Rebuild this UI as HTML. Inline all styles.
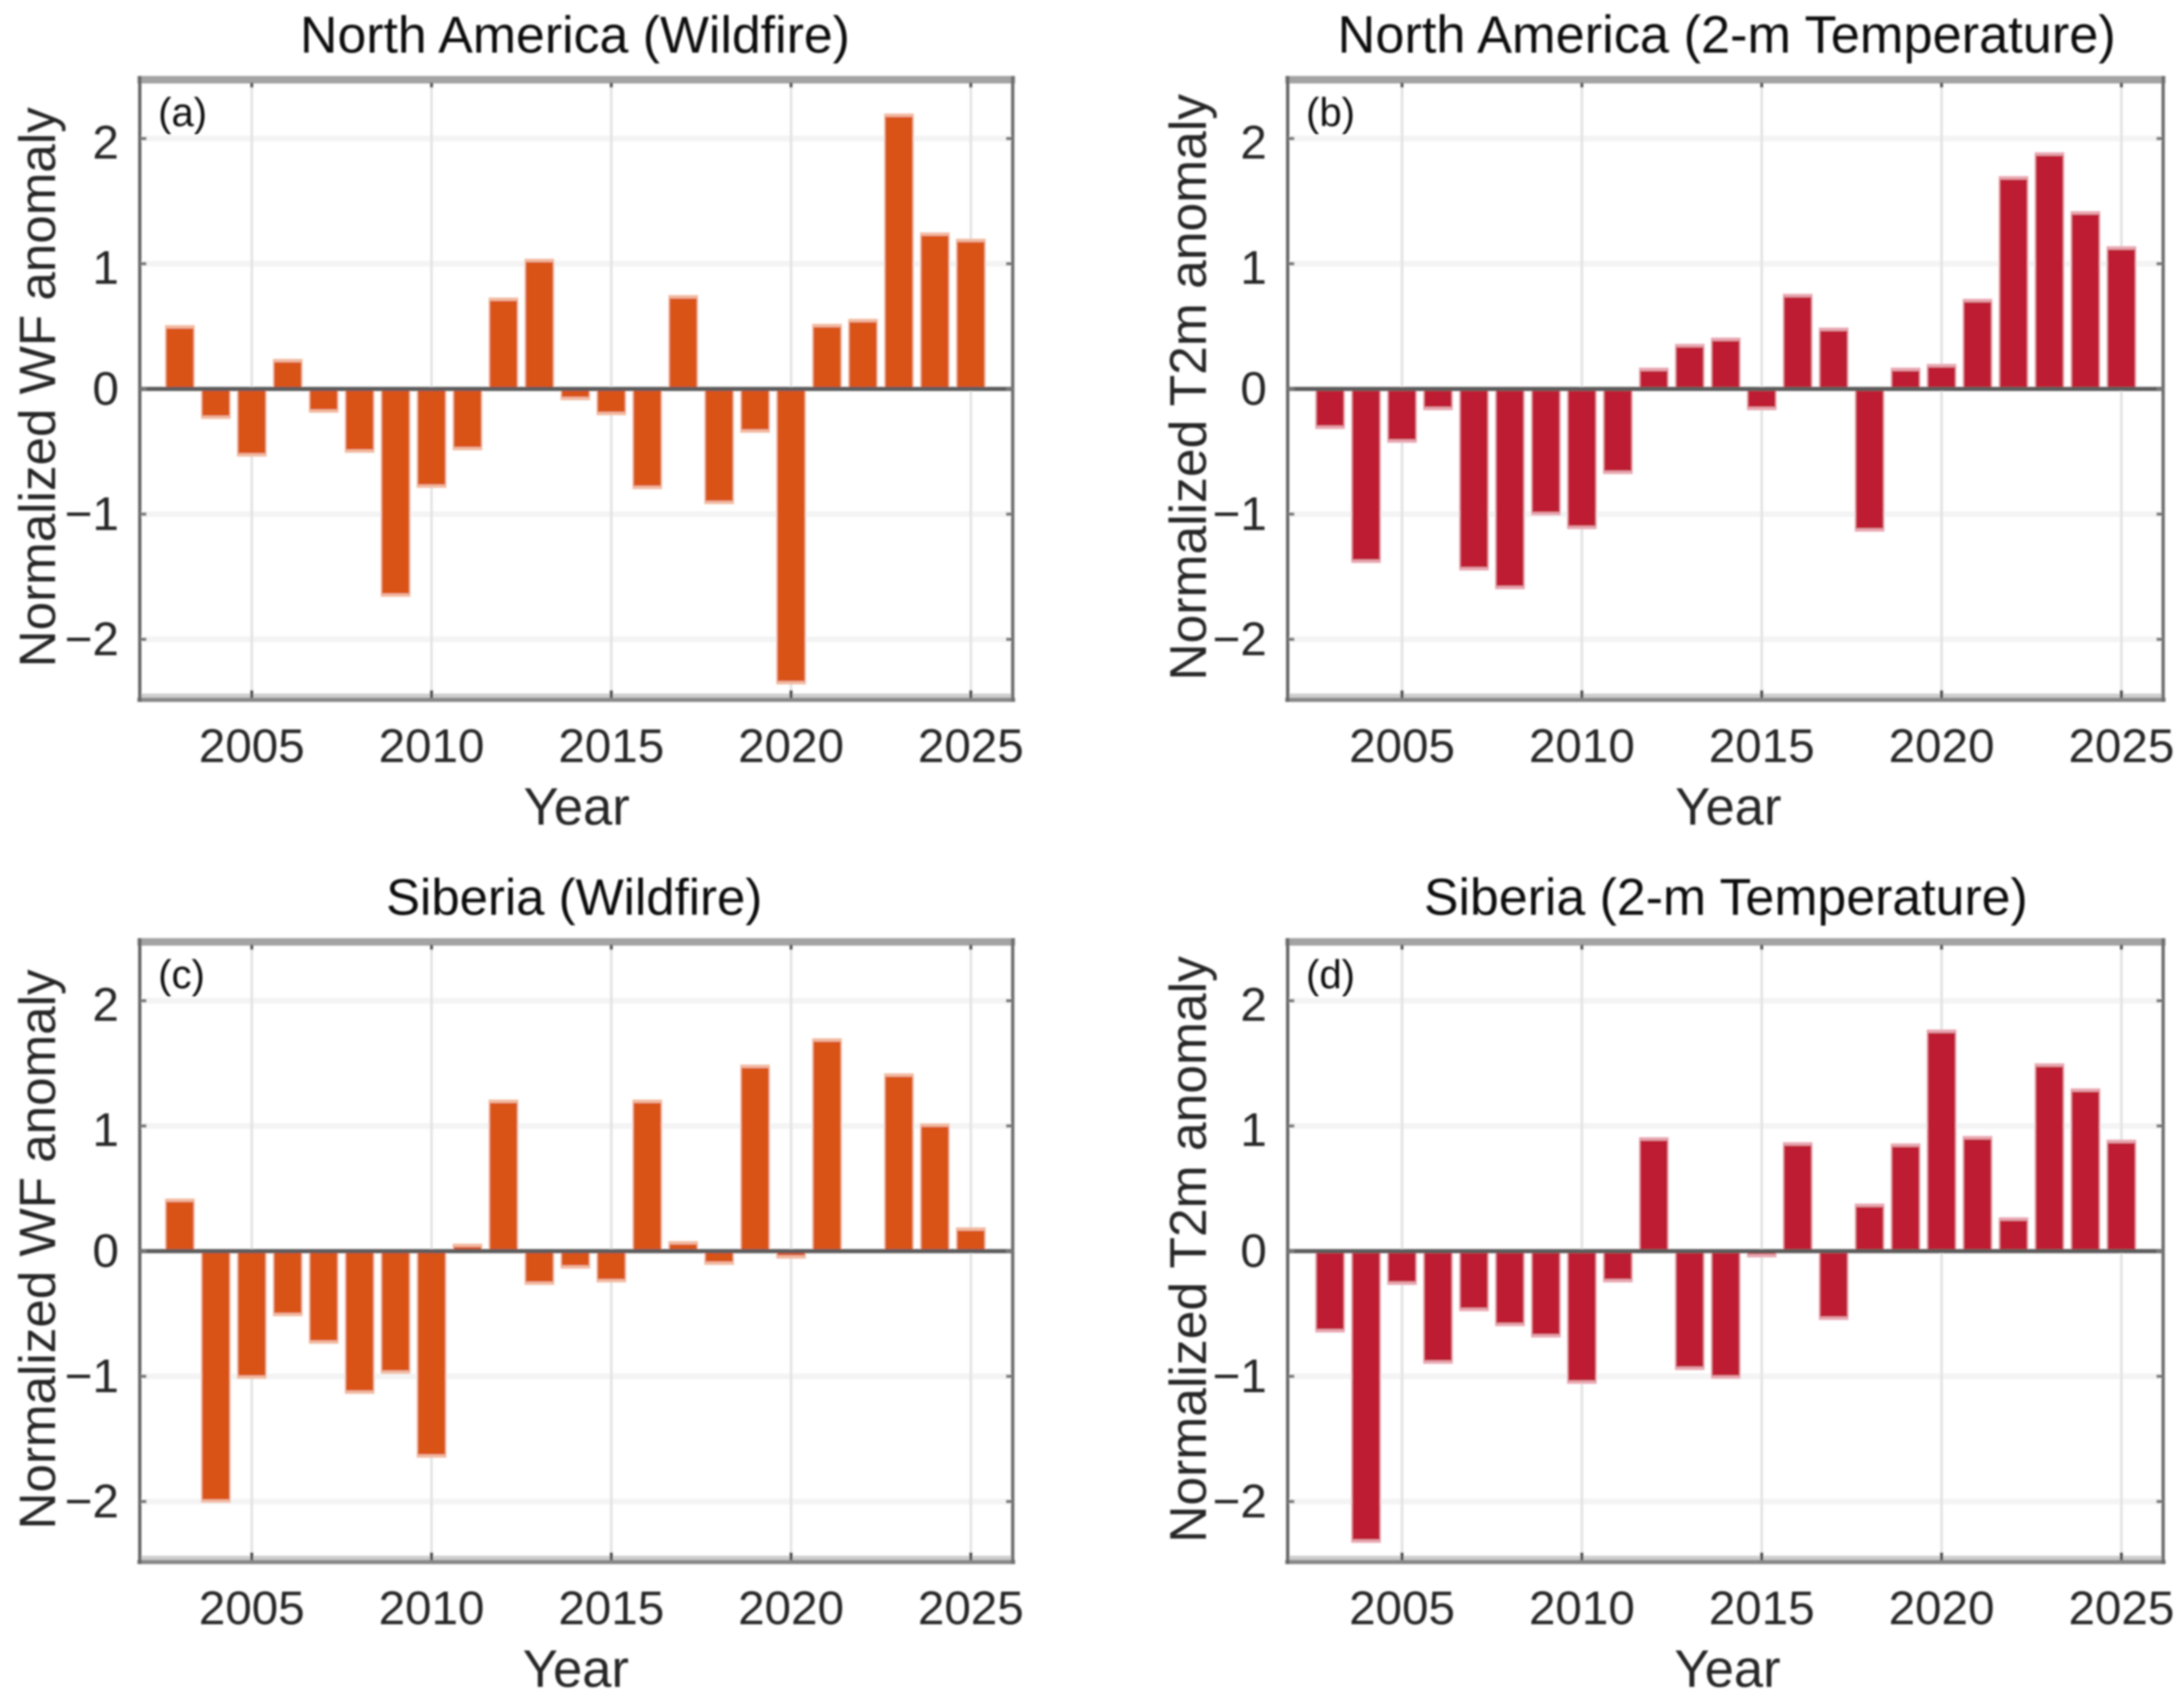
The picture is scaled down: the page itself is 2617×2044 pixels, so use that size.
<!DOCTYPE html>
<html lang="en">
<head>
<meta charset="utf-8">
<title>Normalized wildfire and 2-m temperature anomalies</title>
<style>
html,body{margin:0;padding:0;background:#fff;width:2617px;height:2044px;overflow:hidden}
svg{display:block}
text{font-family:"Liberation Sans",Arial,sans-serif}
</style>
</head>
<body>
<svg id="chart" xmlns="http://www.w3.org/2000/svg" width="2617" height="2044" viewBox="0 0 2617 2044">
<defs><filter id="soft" x="-2%" y="-2%" width="104%" height="104%"><feGaussianBlur stdDeviation="1"/></filter></defs>
<rect x="0" y="0" width="2617" height="2044" fill="#fff"/>
<g id="root" filter="url(#soft)"></g>
</svg>
<script>
const years = [2003,2004,2005,2006,2007,2008,2009,2010,2011,2012,2013,2014,2015,2016,2017,2018,2019,2020,2021,2022,2023,2024,2025];
const xTickValues = [2005,2010,2015,2020,2025];
const yTickValues = [2,1,0,-1,-2];
const yTickLabels = ['2','1','0','\u22121','\u22122'];
const naWildfire = [0.51,-0.24,-0.54,0.24,-0.19,-0.51,-1.66,-0.79,-0.49,0.73,1.04,-0.09,-0.21,-0.80,0.75,-0.92,-0.35,-2.36,0.52,0.56,2.20,1.25,1.20];
const naTemperature = [-0.32,-1.39,-0.43,-0.17,-1.45,-1.60,-1.01,-1.12,-0.68,0.17,0.36,0.41,-0.17,0.76,0.49,-1.14,0.17,0.20,0.72,1.70,1.89,1.42,1.14];
const siWildfire = [0.42,-2.01,-1.02,-0.52,-0.74,-1.14,-0.98,-1.65,0.06,1.21,-0.27,-0.14,-0.25,1.21,0.08,-0.11,1.49,-0.06,1.70,0.00,1.42,1.02,0.19];
const siTemperature = [-0.65,-2.33,-0.27,-0.90,-0.48,-0.60,-0.69,-1.06,-0.25,0.91,-0.95,-1.02,-0.05,0.87,-0.55,0.38,0.86,1.77,0.92,0.27,1.50,1.30,0.89];

const SVGNS = 'http://www.w3.org/2000/svg';
const root = document.getElementById('root');

function make(parent, tag, props, text) {
  const el = document.createElementNS(SVGNS, tag);
  for (const k in props) el.setAttribute(k, props[k]);
  if (text !== undefined) el.textContent = text;
  parent.appendChild(el);
  return el;
}

function drawPanel(cfg) {
  const x = year => cfg.x2005 + (year - 2005) * cfg.perYear;
  const y = value => cfg.zero - value * 150;
  const top = y(2.5), bottom = y(-2.5);
  const panelSlug = cfg.slug;

  const g = make(root, 'g', {});
  
  

  // grid lines
  yTickValues.forEach(v => {
    if (v === 0) return;
    const band = make(g, 'rect', {x: cfg.left, y: y(v) - 3.5, width: cfg.right - cfg.left, height: 7, fill: '#f4f4f4'});
    
    
  });
  xTickValues.forEach(t => {
    const line = make(g, 'rect', {x: x(t) - 1.5, y: top, width: 3, height: bottom - top, fill: '#e2e2e2'});
    
    
  });

  // bars
  const barHalf = cfg.perYear * 0.4;
  years.forEach((yr, i) => {
    const v = cfg.values[i];
    const y0 = y(0), y1 = y(v);
    const halo = make(g, 'rect', {
      x: x(yr) - barHalf - 0.5, y: Math.min(y0, y1), width: barHalf * 2 + 1,
      height: Math.abs(y1 - y0), fill: cfg.haloColor
    });
    
    
    const inner = Math.max(Math.abs(y1 - y0) - 4, 0);
    const bar = make(g, 'rect', {
      x: x(yr) - barHalf + 1, y: v >= 0 ? y0 - inner : y0, width: barHalf * 2 - 2,
      height: inner, fill: cfg.color
    });
    
    
  });

  // zero baseline
  const base = make(g, 'rect', {x: cfg.left, y: y(0) - 2.5, width: cfg.right - cfg.left, height: 5, fill: '#5c5c5c'});
  
  

  // frame
  const frameTop = make(g, 'rect', {x: cfg.left - 3, y: top, width: cfg.right - cfg.left + 6, height: 9, fill: '#a3a3a3'});
  
  
  const frameBottomLight = make(g, 'rect', {x: cfg.left, y: bottom - 10, width: cfg.right - cfg.left, height: 5, fill: '#cdcdcd'});
  
  
  const frameBottom = make(g, 'rect', {x: cfg.left - 3, y: bottom - 5, width: cfg.right - cfg.left + 6, height: 5, fill: '#878787'});
  
  
  const frameLeft = make(g, 'rect', {x: cfg.left - 2, y: top, width: 4, height: bottom - top, fill: '#666'});
  
  
  const frameRight = make(g, 'rect', {x: cfg.right - 2, y: top, width: 4, height: bottom - top, fill: '#6e6e6e'});
  
  

  // x ticks and labels
  xTickValues.forEach(t => {
    const tickB = make(g, 'rect', {x: x(t) - 1.75, y: bottom - 14, width: 3.5, height: 9, fill: '#444'});
    
    
    const tickT = make(g, 'rect', {x: x(t) - 1.75, y: top + 8, width: 3.5, height: 6, fill: '#555'});
    
    
    const label = make(g, 'text', {x: x(t), y: cfg.zero + 447, 'text-anchor': 'middle', 'font-size': 57, fill: '#262626'}, String(t));
    
    
  });

  // y ticks and labels
  yTickValues.forEach((v, i) => {
    const tickL = make(g, 'rect', {x: cfg.left, y: y(v) - 2, width: 8, height: 4, fill: '#777'});
    
    
    const tickR = make(g, 'rect', {x: cfg.right - 8, y: y(v) - 2, width: 8, height: 4, fill: '#777'});
    
    
    const label = make(g, 'text', {x: cfg.left - 25, y: y(v) + (v > 0 ? 24 : 19), 'text-anchor': 'end', 'font-size': 57, fill: '#262626'}, yTickLabels[i]);
    
    
  });

  // titles
  const title = make(g, 'text', {x: cfg.titleX, y: cfg.zero - 403, 'text-anchor': 'middle', 'font-size': cfg.titleSize, fill: '#111'}, cfg.title);
  
  
  const xTitle = make(g, 'text', {x: cfg.titleX + 2, y: cfg.zero + 522, 'text-anchor': 'middle', 'font-size': 63, fill: '#262626'}, 'Year');
  
  
  const yTitle = make(g, 'text', {
    x: 0, y: 0, 'text-anchor': 'middle', 'font-size': cfg.yTitleSize, fill: '#262626',
    transform: 'translate(' + cfg.yTitleX + ',' + (cfg.zero - 2) + ') rotate(-90)'
  }, cfg.yTitle);
  
  
  const letter = make(g, 'text', {x: cfg.left + 22, y: top + 60, 'font-size': 48, fill: '#111'}, cfg.letter);
  
  
}

const ORANGE = '#d95316', ORANGE_HALO = '#f2b9a0';
const CRIMSON = '#bd1a32', CRIMSON_HALO = '#e8a6b0';

drawPanel({slug: 'north-america-wildfire', title: 'North America (Wildfire)', titleSize: 62.1, yTitle: 'Normalized WF anomaly', yTitleSize: 61.3, letter: '(a)',
  values: naWildfire, color: ORANGE, haloColor: ORANGE_HALO, left: 167.5, right: 1213.5, x2005: 301.7, perYear: 43.08, zero: 466, titleX: 689, yTitleX: 66});
drawPanel({slug: 'north-america-temperature', title: 'North America (2-m Temperature)', titleSize: 62.7, yTitle: 'Normalized T2m anomaly', yTitleSize: 61.8, letter: '(b)',
  values: naTemperature, color: CRIMSON, haloColor: CRIMSON_HALO, left: 1543, right: 2592, x2005: 1680, perYear: 43.1, zero: 466, titleX: 2069, yTitleX: 1445});
drawPanel({slug: 'siberia-wildfire', title: 'Siberia (Wildfire)', titleSize: 61, yTitle: 'Normalized WF anomaly', yTitleSize: 61.3, letter: '(c)',
  values: siWildfire, color: ORANGE, haloColor: ORANGE_HALO, left: 167.5, right: 1213.5, x2005: 301.7, perYear: 43.08, zero: 1499, titleX: 688, yTitleX: 66});
drawPanel({slug: 'siberia-temperature', title: 'Siberia (2-m Temperature)', titleSize: 62.1, yTitle: 'Normalized T2m anomaly', yTitleSize: 61.8, letter: '(d)',
  values: siTemperature, color: CRIMSON, haloColor: CRIMSON_HALO, left: 1543, right: 2592, x2005: 1680, perYear: 43.1, zero: 1499, titleX: 2068, yTitleX: 1445});
</script>
</body>
</html>
